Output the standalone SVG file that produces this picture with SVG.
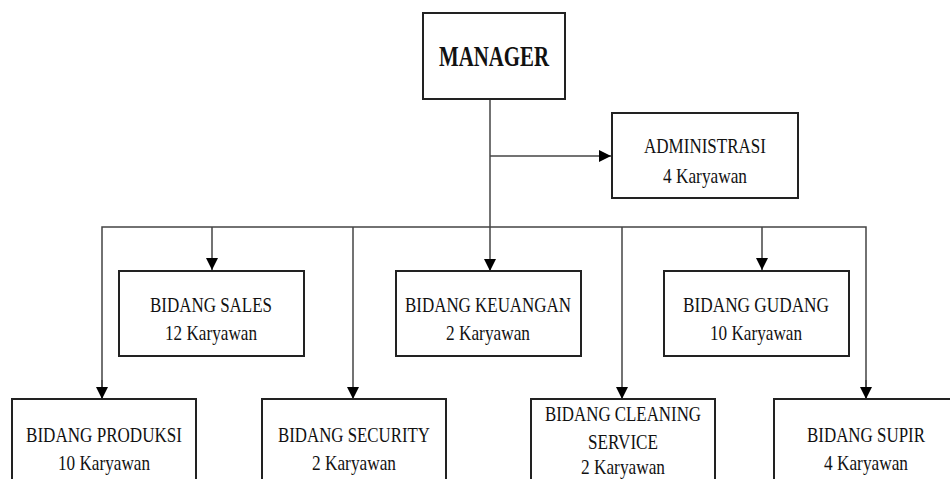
<svg xmlns="http://www.w3.org/2000/svg" width="950" height="479" viewBox="0 0 950 479">
<style>
.box{fill:#fff;stroke:#222;stroke-width:2}
.ln{fill:none;stroke:#444;stroke-width:1.5}
.t{font-family:"Liberation Serif","Times New Roman",serif;font-size:21px;fill:#111;text-anchor:middle}
.b{font-weight:bold;font-size:29px}
</style>
<defs>
<marker id="ah" markerWidth="12" markerHeight="12" viewBox="0 0 12 12" refX="12" refY="6" orient="auto" markerUnits="userSpaceOnUse">
<path d="M0,0 L12,6 L0,12 Z" fill="#000"/>
</marker>
</defs>
<rect width="950" height="479" fill="#fff"/>
<g id="connectors">
<line class="ln" x1="490" y1="99" x2="490" y2="271" marker-end="url(#ah)"/>
<line class="ln" x1="490" y1="156" x2="611" y2="156" marker-end="url(#ah)"/>
<polyline class="ln" points="102,399 102,227 866,227 866,399"/>
<line class="ln" x1="102" y1="380" x2="102" y2="399" marker-end="url(#ah)"/>
<line class="ln" x1="866" y1="380" x2="866" y2="399" marker-end="url(#ah)"/>
<line class="ln" x1="212" y1="227" x2="212" y2="270" marker-end="url(#ah)"/>
<line class="ln" x1="762" y1="227" x2="762" y2="270" marker-end="url(#ah)"/>
<line class="ln" x1="353" y1="227" x2="353" y2="399" marker-end="url(#ah)"/>
<line class="ln" x1="622" y1="227" x2="622" y2="399" marker-end="url(#ah)"/>
</g>
<g id="manager">
<rect class="box" x="423" y="13" width="142" height="86"/>
<text class="t b" x="494" y="66" textLength="110" lengthAdjust="spacingAndGlyphs">MANAGER</text>
</g>
<g id="administrasi">
<rect class="box" x="612" y="113" width="186" height="85"/>
<text class="t" x="705" y="153" textLength="122" lengthAdjust="spacingAndGlyphs">ADMINISTRASI</text>
<text class="t" x="705" y="183" textLength="84" lengthAdjust="spacingAndGlyphs">4 Karyawan</text>
</g>
<g id="sales">
<rect class="box" x="119" y="271" width="185" height="85"/>
<text class="t" x="211" y="312" textLength="122" lengthAdjust="spacingAndGlyphs">BIDANG SALES</text>
<text class="t" x="211" y="340" textLength="92" lengthAdjust="spacingAndGlyphs">12 Karyawan</text>
</g>
<g id="keuangan">
<rect class="box" x="396" y="271" width="185" height="85"/>
<text class="t" x="488" y="312" textLength="166" lengthAdjust="spacingAndGlyphs">BIDANG KEUANGAN</text>
<text class="t" x="488" y="340" textLength="84" lengthAdjust="spacingAndGlyphs">2 Karyawan</text>
</g>
<g id="gudang">
<rect class="box" x="664" y="271" width="185" height="85"/>
<text class="t" x="756" y="312" textLength="146" lengthAdjust="spacingAndGlyphs">BIDANG GUDANG</text>
<text class="t" x="756" y="340" textLength="92" lengthAdjust="spacingAndGlyphs">10 Karyawan</text>
</g>
<g id="produksi">
<rect class="box" x="12" y="399" width="184" height="95"/>
<text class="t" x="104" y="442" textLength="156" lengthAdjust="spacingAndGlyphs">BIDANG PRODUKSI</text>
<text class="t" x="104" y="470" textLength="92" lengthAdjust="spacingAndGlyphs">10 Karyawan</text>
</g>
<g id="security">
<rect class="box" x="262" y="399" width="184" height="95"/>
<text class="t" x="354" y="442" textLength="152" lengthAdjust="spacingAndGlyphs">BIDANG SECURITY</text>
<text class="t" x="354" y="470" textLength="84" lengthAdjust="spacingAndGlyphs">2 Karyawan</text>
</g>
<g id="cleaning">
<rect class="box" x="531" y="399" width="184" height="95"/>
<text class="t" x="623" y="421" textLength="156" lengthAdjust="spacingAndGlyphs">BIDANG CLEANING</text>
<text class="t" x="623" y="449" textLength="70" lengthAdjust="spacingAndGlyphs">SERVICE</text>
<text class="t" x="623" y="474" textLength="84" lengthAdjust="spacingAndGlyphs">2 Karyawan</text>
</g>
<g id="supir">
<rect class="box" x="774" y="399" width="184" height="95"/>
<text class="t" x="866" y="442" textLength="118" lengthAdjust="spacingAndGlyphs">BIDANG SUPIR</text>
<text class="t" x="866" y="470" textLength="84" lengthAdjust="spacingAndGlyphs">4 Karyawan</text>
</g>
</svg>
